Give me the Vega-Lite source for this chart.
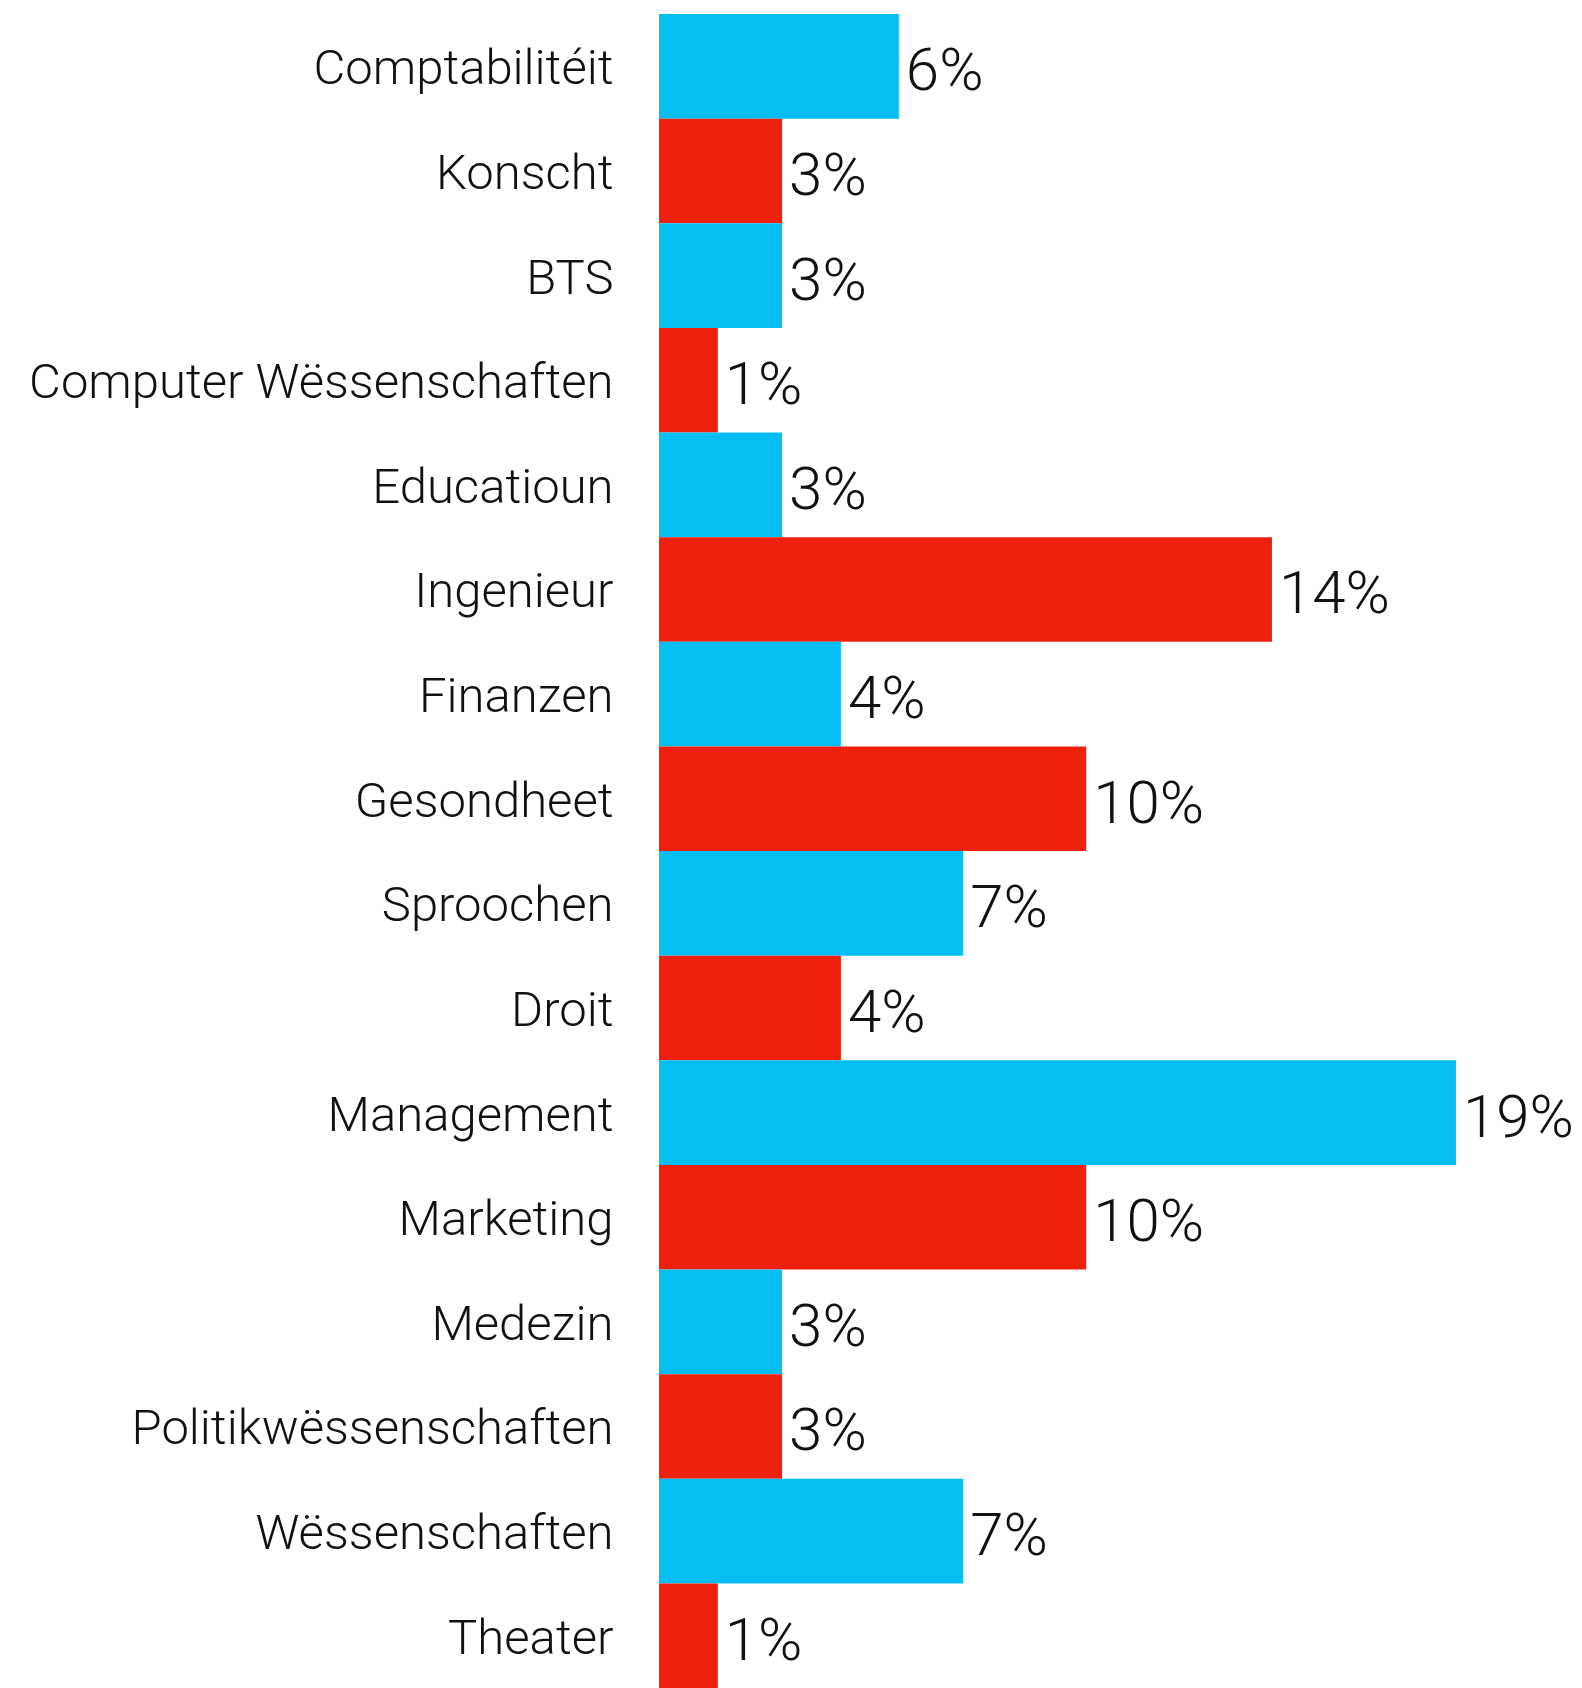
{
  "$schema": "https://vega.github.io/schema/vega-lite/v6.json",
  "width": 923,
  "height": 1674,
  "autosize": {"type": "none"},
  "padding": {"left": 659, "top": 14, "right": 0, "bottom": 0},
  "background": "white",
  "config": {"view": {"stroke": null}},
  "data": {
    "values": [
      {"field": "Comptabilitéit", "share": 0.0567},
      {"field": "Konscht", "share": 0.0291},
      {"field": "BTS", "share": 0.0291},
      {"field": "Computer Wëssenschaften", "share": 0.0139},
      {"field": "Educatioun", "share": 0.0291},
      {"field": "Ingenieur", "share": 0.1449},
      {"field": "Finanzen", "share": 0.0430},
      {"field": "Gesondheet", "share": 0.1010},
      {"field": "Sproochen", "share": 0.0719},
      {"field": "Droit", "share": 0.0430},
      {"field": "Management", "share": 0.1884},
      {"field": "Marketing", "share": 0.1010},
      {"field": "Medezin", "share": 0.0291},
      {"field": "Politikwëssenschaften", "share": 0.0291},
      {"field": "Wëssenschaften", "share": 0.0719},
      {"field": "Theater", "share": 0.0139}
    ]
  },
  "encoding": {
    "y": {
      "field": "field",
      "type": "nominal",
      "sort": null,
      "scale": {"paddingInner": 0, "paddingOuter": 0},
      "axis": {
        "title": null,
        "ticks": false,
        "domain": false,
        "labelPadding": 46,
        "labelOffset": 3,
        "labelFontSize": 49,
        "labelFont": "Roboto",
        "labelFontWeight": 300,
        "labelColor": "#111111",
        "labelLimit": 0
      }
    },
    "x": {
      "field": "share",
      "type": "quantitative",
      "scale": {"domain": [0, 0.2182], "nice": false, "zero": true},
      "axis": null
    }
  },
  "layer": [
    {
      "mark": {"type": "bar"},
      "encoding": {
        "color": {
          "field": "field",
          "type": "nominal",
          "sort": null,
          "scale": {
            "domain": ["Comptabilitéit", "Konscht", "BTS", "Computer Wëssenschaften", "Educatioun", "Ingenieur", "Finanzen", "Gesondheet", "Sproochen", "Droit", "Management", "Marketing", "Medezin", "Politikwëssenschaften", "Wëssenschaften", "Theater"],
            "range": ["#06bef4", "#ee210f", "#06bef4", "#ee210f", "#06bef4", "#ee210f", "#06bef4", "#ee210f", "#06bef4", "#ee210f", "#06bef4", "#ee210f", "#06bef4", "#ee210f", "#06bef4", "#ee210f"]
          },
          "legend": null
        }
      }
    },
    {
      "mark": {"type": "text", "align": "left", "baseline": "middle", "dx": 7, "dy": 6, "fontSize": 60, "font": "Roboto", "fontWeight": 300, "color": "#111111"},
      "encoding": {
        "text": {"field": "share", "type": "quantitative", "format": ".0%"}
      }
    }
  ]
}
